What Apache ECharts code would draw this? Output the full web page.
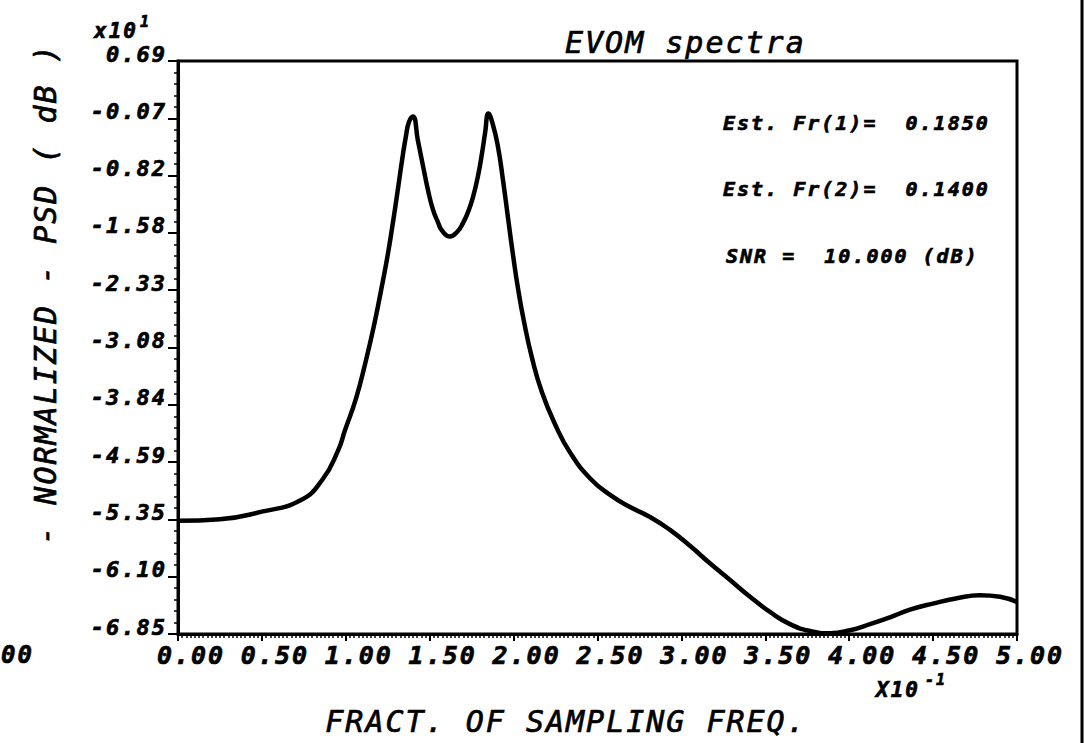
<!DOCTYPE html>
<html>
<head>
<meta charset="utf-8">
<title>EVOM spectra</title>
<script src="https://cdn.jsdelivr.net/npm/echarts@6/dist/echarts.min.js"></script>
<style>
  html, body { margin: 0; padding: 0; background: #fff; }
  #chart { width: 1084px; height: 743px; }
  /* plotter lettering: wide spacing and a heavy pen */
  #chart text { letter-spacing: 2px; stroke: #000; stroke-width: 0.7px; }
</style>
</head>
<body>
<div id="chart"></div>
<script>
// Frequency as a fraction of the sampling frequency
const freq = [
  0.000, 0.025, 0.050, 0.073, 0.086, 0.0955, 0.0995, 0.1061, 0.1120, 0.1168,
  0.1210, 0.1246, 0.1275, 0.1305, 0.1335, 0.1359, 0.1377, 0.1400, 0.1430, 0.1460,
  0.1490, 0.1520, 0.1549, 0.1573, 0.1621, 0.1663, 0.1699, 0.1728, 0.1758, 0.1788,
  0.1812, 0.1830, 0.1850, 0.1877, 0.1907, 0.1937, 0.1967, 0.1997, 0.2026, 0.2062,
  0.2110, 0.2169, 0.2247, 0.2336, 0.2455, 0.2575, 0.2694, 0.2813, 0.2932, 0.3051,
  0.3170, 0.3290, 0.3409, 0.3528, 0.3647, 0.3766, 0.3886, 0.4005, 0.4124, 0.4243,
  0.4362, 0.4499, 0.4642, 0.4779, 0.4899, 0.5000
];
// Normalized power spectral density, dB
const psd = [
  -53.6, -53.4, -52.4, -50.9, -48.2, -44.3, -41.7, -37.5, -32.5, -27.9,
  -23.3, -19.1, -15.2, -10.8, -6.2, -2.9, -1.1, -0.4, -3.6, -6.9,
  -10.1, -12.7, -14.3, -15.4, -16.2, -15.6, -14.4, -13.0, -11.0, -8.2,
  -5.2, -2.6, 0.0, -1.5, -4.4, -8.8, -13.8, -18.7, -23.0, -27.4,
  -32.2, -36.7, -40.9, -44.6, -48.0, -50.2, -51.8, -53.1, -54.8, -56.9,
  -59.2, -61.4, -63.6, -65.6, -67.2, -68.1, -68.4, -68.0, -67.2, -66.3,
  -65.3, -64.5, -63.8, -63.4, -63.6, -64.3
];

// Axis tick labels (x in units of 1e-1, y in units of 1e1 dB)
const xTickLabels = ['0.00', '0.50', '1.00', '1.50', '2.00', '2.50', '3.00', '3.50', '4.00', '4.50', '5.00'];
const yTickLabels = ['-6.85', '-6.10', '-5.35', '-4.59', '-3.84', '-3.08', '-2.33', '-1.58', '-0.82', '-0.07', '0.69'];

// Estimates printed in the plot
const estFr1 = '0.1850';
const estFr2 = '0.1400';
const snrText = '10.000';

const Y_MIN = -68.5;   // dB at bottom of frame
const Y_MAX = 6.9;     // dB at top of frame
const Y_STEP = (Y_MAX - Y_MIN) / 10;
const X_SCALE = 10;    // axis shows fraction x10^-1
const X_STEP = 0.5;

const MONO = '"DejaVu Sans Mono", "Liberation Mono", monospace';

// y is measured from the bottom of the frame so ticks start at 0
const seriesData = freq.map((f, i) => [f * X_SCALE, psd[i] - Y_MIN]);

const chart = echarts.init(document.getElementById('chart'), null, { renderer: 'svg' });

function txt(x, y, text, size, weight, align, extra) {
  return Object.assign({
    type: 'text',
    x: x, y: y,
    style: {
      text: text,
      fill: '#000',
      fontFamily: MONO,
      fontStyle: 'italic',
      fontWeight: weight,
      fontSize: size,
      align: align || 'left',
      verticalAlign: 'middle'
    }
  }, extra || {});
}

chart.setOption({
  backgroundColor: '#fff',
  animation: false,
  title: {
    text: 'EVOM spectra',
    left: 565,
    top: 27,
    padding: 0,
    textStyle: {
      fontFamily: MONO,
      fontStyle: 'italic',
      fontWeight: 'normal',
      fontSize: 30,
      lineHeight: 30,
      color: '#000'
    }
  },
  grid: {
    left: 178, right: 67, top: 61, bottom: 109,
    show: true,
    borderColor: '#000',
    borderWidth: 3,
    backgroundColor: 'transparent'
  },
  xAxis: {
    type: 'value',
    min: 0,
    max: 5,
    interval: X_STEP,
    axisLine: { show: true, lineStyle: { color: '#000', width: 3 } },
    axisTick: { show: true, length: 7, lineStyle: { color: '#000', width: 2 } },
    minorTick: { show: true, splitNumber: 20, length: 4, lineStyle: { color: '#000', width: 1.5 } },
    splitLine: { show: false },
    minorSplitLine: { show: false },
    axisLabel: {
      color: '#000',
      fontFamily: MONO,
      fontStyle: 'italic',
      fontWeight: 'bold',
      fontSize: 25,
      margin: 9,
      padding: [0, 0, 0, 26],
      formatter: v => xTickLabels[Math.round(v / X_STEP)]
    }
  },
  yAxis: {
    type: 'value',
    min: 0,
    max: Y_MAX - Y_MIN,
    interval: Y_STEP,
    axisLine: { show: true, lineStyle: { color: '#000', width: 3 } },
    axisTick: { show: true, length: 10, lineStyle: { color: '#000', width: 2 } },
    minorTick: { show: true, splitNumber: 5, length: 4, lineStyle: { color: '#000', width: 1.5 } },
    splitLine: { show: false },
    minorSplitLine: { show: false },
    axisLabel: {
      color: '#000',
      fontFamily: MONO,
      fontStyle: 'italic',
      fontWeight: 'bold',
      fontSize: 22,
      margin: 11,
      verticalAlign: 'bottom',
      lineHeight: 14,
      formatter: v => yTickLabels[Math.round(v / Y_STEP)]
    }
  },
  series: [{
    type: 'line',
    data: seriesData,
    showSymbol: false,
    smooth: 0.5,
    lineStyle: { color: '#000', width: 4.5 },
    clip: false
  }],
  graphic: [
    // axis titles
    txt(45, 294, '- NORMALIZED - PSD ( dB )', 30, 'normal', 'center', { rotation: Math.PI / 2 }),
    txt(566, 721, 'FRACT. OF SAMPLING FREQ.', 30, 'normal', 'center'),
    // scale factors
    txt(94, 31, 'x10', 21, 'bold', 'left'),
    txt(140, 22, '1', 15, 'bold', 'left'),
    txt(876, 690, 'X10', 21, 'bold', 'left'),
    txt(925, 680, '-1', 15, 'bold', 'left'),
    // estimates
    txt(723, 123, 'Est. Fr(1)=  ' + estFr1, 20, 'bold', 'left'),
    txt(723, 189, 'Est. Fr(2)=  ' + estFr2, 20, 'bold', 'left'),
    txt(726, 256, 'SNR =  ' + snrText + ' (dB)', 20, 'bold', 'left'),
    // edge of the neighbouring sheet
    txt(1, 655, '00', 24, 'bold', 'left'),
    {
      type: 'line',
      shape: { x1: 1082, y1: 0, x2: 1082, y2: 743 },
      style: { stroke: '#000', lineWidth: 3 }
    }
  ]
});
</script>
</body>
</html>
